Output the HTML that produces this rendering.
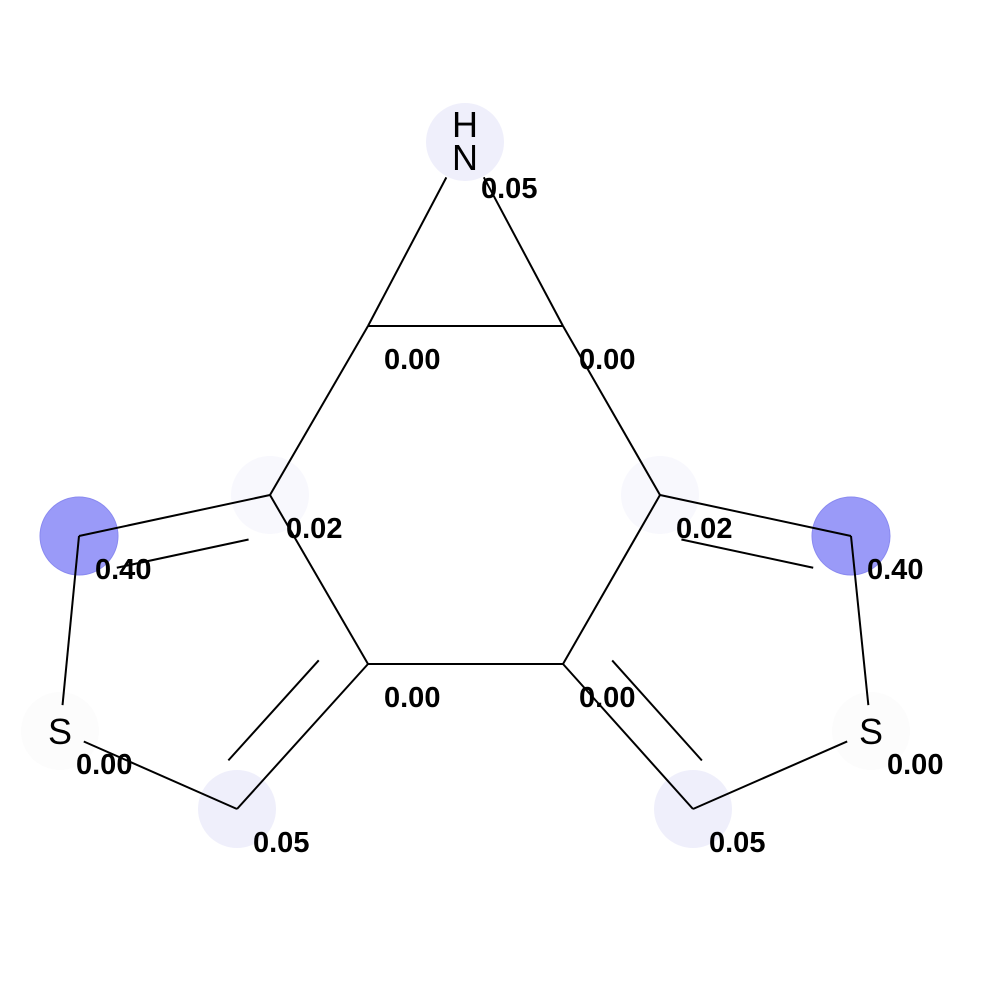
<!DOCTYPE html>
<html><head><meta charset="utf-8"><style>
html,body{margin:0;padding:0;background:#fff;}
svg{display:block;}
text{font-family:"Liberation Sans",sans-serif;}
</style></head><body>
<svg id="mol" width="1000" height="1000" viewBox="0 0 1000 1000">
<rect width="1000" height="1000" fill="#fff"/>
<g id="circles"></g><g id="bonds"></g><g id="labels"></g>
</svg>
<script>
const atomX = [465, 368, 563, 270, 660, 368, 563, 79, 851, 60, 871, 237, 693];
const atomY = [142, 326, 326, 495, 495, 664, 664, 536, 536, 731, 731, 809, 809];
const atomSym = ["N", "", "", "", "", "", "", "", "", "S", "S", "", ""];
const atomVal = [0.05, 0.00, 0.00, 0.02, 0.02, 0.00, 0.00, 0.40, 0.40, 0.00, 0.00, 0.05, 0.05];
const bondA = [0, 0, 1, 1, 2, 3, 4, 5, 3, 4, 7, 8, 9, 10, 11, 12];
const bondB = [1, 2, 2, 3, 4, 5, 6, 6, 7, 8, 9, 10, 11, 12, 5, 6];
const bondDouble = [0,0,0,0,0,0,0,0,1,1,0,0,0,0,1,1];
const NS = "http://www.w3.org/2000/svg";
const gc = document.getElementById('circles'), gb = document.getElementById('bonds'), gl = document.getElementById('labels');
function mk(tag, attrs, parent){const e=document.createElementNS(NS,tag);for(const k in attrs)e.setAttribute(k,attrs[k]);parent.appendChild(e);return e;}
function col(v){const t=Math.min(1,v/0.4);const r=Math.round(255-(255-154)*t),g=Math.round(255-(255-154)*t),b=Math.round(255-(255-248)*t);return `rgb(${r},${g},${b})`;}
atomX.forEach((x,i)=>{
  const v=atomVal[i];
  let fill = v>=0.3? col(v) : (v>=0.04? '#efeffb' : (v>=0.01? '#f8f8fd': (atomSym[i]?'#fcfcfc':'none')));
  if(fill==='none') return;
  const c=mk('circle',{cx:x,cy:atomY[i],r:39,fill:fill,stroke:v>=0.3?'#8a8af0':'none','stroke-width':1},gc);
  
  
});
function shorten(i,j){
  let x1=atomX[i],y1=atomY[i],x2=atomX[j],y2=atomY[j];
  const dx=x2-x1,dy=y2-y1,L=Math.hypot(dx,dy);
  const g=s=>s==='N'?40:(s?26:0);
  x1+=dx/L*g(atomSym[i]);y1+=dy/L*g(atomSym[i]);
  x2-=dx/L*g(atomSym[j]);y2-=dy/L*g(atomSym[j]);
  return [x1,y1,x2,y2];
}
bondA.forEach((a,k)=>{
  const b=bondB[k];
  const [x1,y1,x2,y2]=shorten(a,b);
  const l=mk('line',{x1,y1,x2,y2,stroke:'#000','stroke-width':2},gb);
  
  
  if(bondDouble[k]){
    const dx=x2-x1,dy=y2-y1,L=Math.hypot(dx,dy);
    let nx=-dy/L,ny=dx/L;
    const mx=(x1+x2)/2,my=(y1+y2)/2;
    const rc = atomX[a]<465||atomX[b]<465 ? [170,650] : [760,650];
    if((rc[0]-mx)*nx+(rc[1]-my)*ny<0){nx=-nx;ny=-ny;}
    const off=39, sh=0.155;
    const l2=mk('line',{x1:x1+nx*off+dx*sh,y1:y1+ny*off+dy*sh,x2:x2+nx*off-dx*sh,y2:y2+ny*off-dy*sh,stroke:'#000','stroke-width':2},gb);
    
    
  }
});
atomX.forEach((x,i)=>{
  let vy = atomY[i]+43;
  if(atomSym[i]==='N'){
    const h=mk('text',{x:x,y:atomY[i]-5,'font-size':36,'text-anchor':'middle'},gl);h.textContent='H';
    
    
    const n=mk('text',{x:x,y:atomY[i]+28,'font-size':36,'text-anchor':'middle'},gl);n.textContent='N';
    
    
    vy = atomY[i]+56;
  } else if(atomSym[i]){
    const s=mk('text',{x:x,y:atomY[i]+13,'font-size':36,'text-anchor':'middle'},gl);s.textContent=atomSym[i];
    
    
  }
  const t=mk('text',{x:x+16,y:vy,'font-size':29,'font-weight':'bold'},gl);
  t.textContent=atomVal[i].toFixed(2);
  
  
});
</script>
</body></html>
